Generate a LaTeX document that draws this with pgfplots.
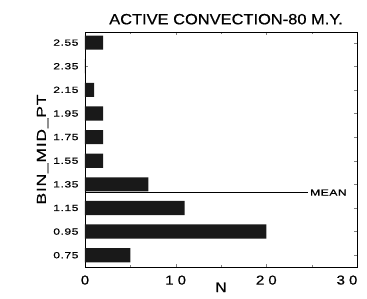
\documentclass[border=0pt]{standalone}
\usepackage{fontspec}
\setmainfont{Liberation Sans}
\newfontfamily\widefont[FakeStretch=1.35,LetterSpace=6,FakeBold=0.6]{Liberation Sans}
\newfontfamily\xfont[FakeStretch=1.15,FakeBold=0.6]{Liberation Sans}
\newfontfamily\titlefont[FakeStretch=1.1,FakeBold=0.6]{Liberation Sans}
\usepackage{pgfplots}
\pgfplotsset{compat=1.18}
\begin{document}
\begin{tikzpicture}
\begin{axis}[
  scale only axis,
  width=272bp, height=235bp,
  xmin=0, xmax=30,
  ymin=0.65, ymax=2.64,
  xtick={0,10,20,30},
  xticklabels={0,1 0,2 0,\hspace*{-20bp}3 0},
  minor xtick={5,15,25},
  ytick={0.75,0.95,1.15,1.35,1.55,1.75,1.95,2.15,2.35,2.55},
  yticklabels={0.75,0.95,1.15,1.35,1.55,1.75,1.95,2.15,2.35,2.55},
  /pgf/number format/assume math mode=true,
  tick align=inside,
  major tick length=3bp,
  minor tick length=2bp,
  xticklabel style={font=\xfont\fontsize{13}{14}\selectfont, yshift=-5bp},
  yticklabel style={font=\widefont\fontsize{9}{10}\selectfont, xshift=-3bp},
  xlabel={N},
  xlabel style={font=\titlefont\fontsize{14}{15}\selectfont, yshift=9bp},
  ylabel={BIN\_MID\_PT},
  ylabel style={font=\widefont\fontsize{13}{14}\selectfont, yshift=-2bp},
  title={ACTIVE CONVECTION-80 M.Y.},
  title style={font=\titlefont\fontsize{15}{16}\selectfont, yshift=-2bp, xshift=5bp},
  axis line style={line width=0.9pt},
  clip=false,
]
\addplot[xbar, bar width=0.12, fill=black!90, draw=none] coordinates {
  (5,0.75) (20,0.95) (11,1.15) (7,1.35) (2,1.55) (2,1.75) (2,1.95) (1,2.15) (0,2.35) (2,2.55)
};
\addplot[black, line width=0.8pt, mark=none] coordinates {(0,1.28) (24.6,1.28)};
\node[anchor=west, font=\widefont\fontsize{9}{10}\selectfont, inner sep=1bp] at (axis cs:24.7,1.28) {MEAN};
\end{axis}
\pgfresetboundingbox
\path ([shift={(-85bp,-32bp)}]current axis.south west) rectangle ([shift={(10bp,32bp)}]current axis.north east);
\end{tikzpicture}
\end{document}
